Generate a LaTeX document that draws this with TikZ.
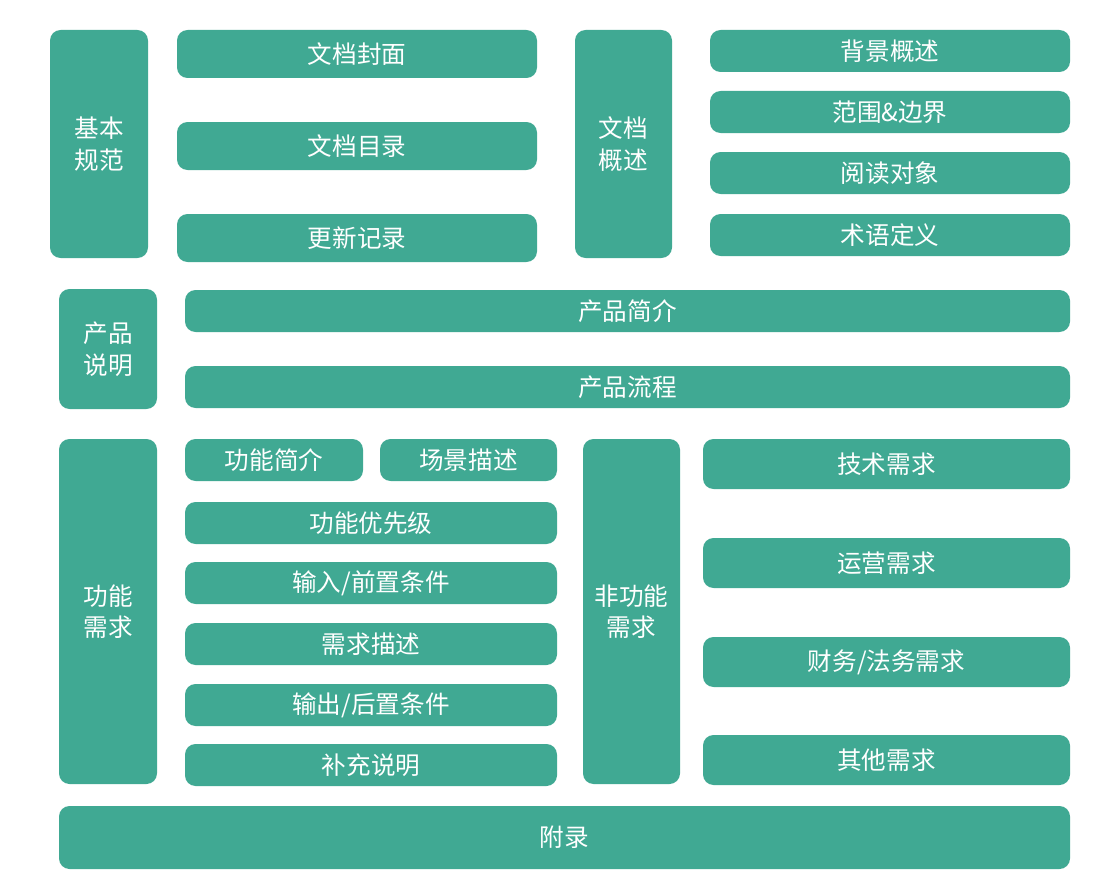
\documentclass[tikz,border=0pt]{standalone}
\usepackage{fontspec}
\setmainfont{Noto Sans CJK SC}
\usetikzlibrary{fit}
\definecolor{teal1}{RGB}{64,169,147}
\tikzset{
  blk/.style={fill=teal1, draw=none, rounded corners=6pt, inner sep=0pt},
  lbl/.style={text=white, align=center, inner sep=0pt,
    font=\fontsize{14}{18}\selectfont}
}
\begin{document}
\begin{tikzpicture}[x=0.02cm, y=-0.02cm]
  \useasboundingbox (0,0) rectangle (1108,892);
  % blocks: x1/y1/x2/y2/text
  \foreach \a/\b/\c/\d/\t [count=\i] in {
      50/30/148/258/{基本\\规范},
      177/30/537/78/文档封面,
      177/122/537/170/文档目录,
      177/214/537/262/更新记录,
      575/30/672/258/{文档\\概述},
      710/30/1070/72/背景概述,
      710/91/1070/133/{范围\&边界},
      710/152/1070/194/阅读对象,
      710/214/1070/256/术语定义,
      59/289/157/409/{产品\\说明},
      185/290/1070/332/产品简介,
      185/366/1070/408/产品流程,
      59/439/157/784/{功能\\需求},
      185/439/363/481/功能简介,
      380/439/557/481/场景描述,
      185/502/557/544/功能优先级,
      185/562/557/604/{输入/前置条件},
      185/623/557/665/需求描述,
      185/684/557/726/{输出/后置条件},
      185/744/557/786/补充说明,
      583/439/680/784/{非功能\\需求},
      703/439/1070/489/技术需求,
      703/538/1070/588/运营需求,
      703/637/1070/687/{财务/法务需求},
      703/735/1070/785/其他需求,
      59/806/1070/869/附录}
  {
    \node[blk, fit={(\a,\b) (\c,\d)}] (blk\i) {};
    \node[lbl] (txt\i) at (blk\i.center) {\t};
  }
\end{tikzpicture}
\end{document}
